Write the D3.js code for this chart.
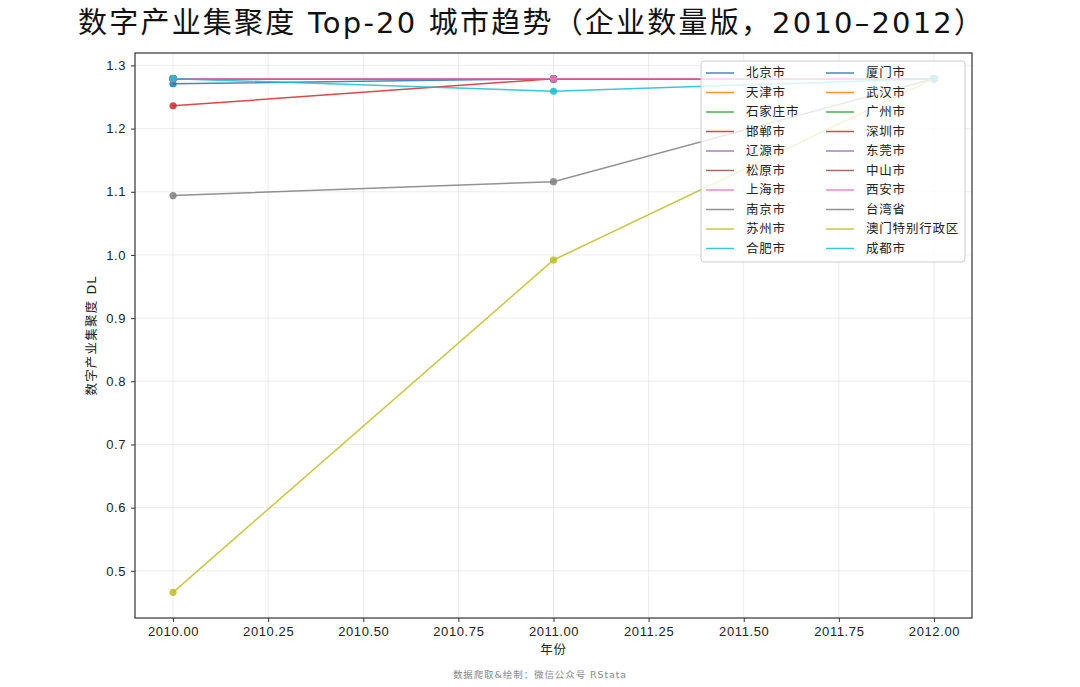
<!DOCTYPE html>
<html>
<head>
<meta charset="utf-8">
<script src="https://cdn.jsdelivr.net/npm/d3@7"></script>
<style>
  body { margin: 0; background: #fff; }
  svg { display: block; font-family: "DejaVu Sans", "Noto Sans CJK SC", sans-serif; }
</style>
</head>
<body>
<svg id="chart" width="1080" height="687"></svg>
<script>
// Data
const years = [2010, 2011, 2012];
const cities = [
  '北京市', '天津市', '石家庄市', '邯郸市', '辽源市', '松原市', '上海市', '南京市', '苏州市', '合肥市',
  '厦门市', '武汉市', '广州市', '深圳市', '东莞市', '中山市', '西安市', '台湾省', '澳门特别行政区', '成都市'
];
const seriesValues = [
  [1.279, 1.279, 1.279], [1.279, 1.279, 1.279], [1.279, 1.279, 1.279], [1.279, 1.279, 1.279],
  [1.279, 1.279, 1.279], [1.279, 1.279, 1.279], [1.279, 1.279, 1.279], [1.279, 1.279, 1.279],
  [1.279, 1.279, 1.279], [1.279, 1.279, 1.279],
  [1.271, 1.279, 1.279], [1.279, 1.279, 1.279], [1.279, 1.279, 1.279], [1.236, 1.279, 1.279],
  [1.279, 1.279, 1.279], [1.279, 1.279, 1.279], [1.279, 1.279, 1.279],
  [1.094, 1.116, 1.279], [0.466, 0.992, 1.279], [1.279, 1.259, 1.279]
];
const xTicks = [2010, 2010.25, 2010.5, 2010.75, 2011, 2011.25, 2011.5, 2011.75, 2012];
const yTicks = [0.5, 0.6, 0.7, 0.8, 0.9, 1.0, 1.1, 1.2, 1.3];
const palette = ['#1f77b4', '#ff7f0e', '#2ca02c', '#d62728', '#9467bd', '#8c564b', '#e377c2', '#7f7f7f', '#bcbd22', '#17becf'];

const svg = d3.select('#chart');
const margin = { left: 135, right: 108, top: 53, bottom: 69 };
const width = 1080 - margin.left - margin.right;
const height = 687 - margin.top - margin.bottom;

// matplotlib-style 5% margins
const xPad = (2012 - 2010) * 0.05;
const allVals = seriesValues.flat();
const yMin = d3.min(allVals), yMax = d3.max(allVals);
const yPad = (yMax - yMin) * 0.05;

const x = d3.scaleLinear().domain([2010 - xPad, 2012 + xPad]).range([0, width]);
const y = d3.scaleLinear().domain([yMin - yPad, yMax + yPad]).range([height, 0]);
const color = (i) => palette[i % palette.length];

const g = svg.append('g').attr('transform', `translate(${margin.left},${margin.top})`);

// Grid
g.append('g').selectAll('line').data(xTicks).enter().append('line')
  .attr('x1', d => x(d)).attr('x2', d => x(d)).attr('y1', 0).attr('y2', height)
  .attr('stroke', '#b0b0b0').attr('stroke-opacity', 0.3).attr('stroke-width', 0.8);
g.append('g').selectAll('line').data(yTicks).enter().append('line')
  .attr('y1', d => y(d)).attr('y2', d => y(d)).attr('x1', 0).attr('x2', width)
  .attr('stroke', '#b0b0b0').attr('stroke-opacity', 0.3).attr('stroke-width', 0.8);

// Lines + markers
const line = d3.line().x((d, i) => x(years[i])).y(d => y(d));
seriesValues.forEach((vals, i) => {
  g.append('path').datum(vals).attr('d', line)
    .attr('fill', 'none').attr('stroke', color(i)).attr('stroke-width', 1.5).attr('stroke-opacity', 0.85);
  g.append('g').selectAll('circle').data(vals).enter().append('circle')
    .attr('cx', (d, k) => x(years[k])).attr('cy', d => y(d)).attr('r', 3.6)
    .attr('fill', color(i)).attr('fill-opacity', 0.85);
});

// Axes
const xAxis = g.append('g').attr('transform', `translate(0,${height})`)
  .call(d3.axisBottom(x).tickValues(xTicks).tickFormat(d3.format('.2f')).tickSizeOuter(0).tickSize(4).tickPadding(5));
const yAxis = g.append('g')
  .call(d3.axisLeft(y).tickValues(yTicks).tickFormat(d3.format('.1f')).tickSizeOuter(0).tickSize(4).tickPadding(5));
[xAxis, yAxis].forEach(a => {
  a.select('.domain').remove();
  a.selectAll('text').attr('font-size', 13).attr('letter-spacing', 0.6).attr('fill', '#222');
  a.selectAll('line').attr('stroke', '#333');
});

// Frame
g.append('rect').attr('width', width).attr('height', height)
  .attr('fill', 'none').attr('stroke', '#333').attr('stroke-width', 1.2);

// Legend (drawn over the plot, semi-transparent)
const legend = g.append('g').attr('transform', `translate(${566},${8})`);
legend.append('rect').attr('width', 264).attr('height', 201).attr('rx', 3)
  .attr('fill', '#fff').attr('fill-opacity', 0.8).attr('stroke', '#ccc').attr('stroke-width', 1);
const perCol = 10;
cities.forEach((name, i) => {
  const col = Math.floor(i / perCol), row = i % perCol;
  const lx = 5 + col * 120, ly = 12 + row * 19.5;
  legend.append('line').attr('x1', lx).attr('x2', lx + 28).attr('y1', ly).attr('y2', ly)
    .attr('stroke', color(i)).attr('stroke-width', 1.5).attr('stroke-opacity', 0.85);
  legend.append('text').attr('x', lx + 40).attr('y', ly).attr('dy', '0.35em')
    .attr('font-size', 12.5).attr('letter-spacing', 0.8).attr('fill', '#222').text(name);
});

// Labels
svg.append('text').attr('x', 78).attr('y', 33)
  .attr('font-size', 29).attr('fill', '#111')
  .attr('textLength', 905).attr('lengthAdjust', 'spacing')
  .text('数字产业集聚度 Top-20 城市趋势（企业数量版，2010–2012）');
svg.append('text').attr('x', margin.left + width / 2).attr('y', 654).attr('text-anchor', 'middle')
  .attr('font-size', 12.5).attr('letter-spacing', 0.8).attr('fill', '#222').text('年份');
svg.append('text').attr('transform', `translate(96,${margin.top + height / 2}) rotate(-90)`)
  .attr('text-anchor', 'middle').attr('font-size', 12.5).attr('letter-spacing', 1.2)
  .attr('fill', '#222').text('数字产业集聚度 DL');
svg.append('text').attr('x', 540).attr('y', 678).attr('text-anchor', 'middle')
  .attr('font-size', 9.5).attr('letter-spacing', 0.9).attr('fill', '#888').text('数据爬取&绘制：微信公众号 RStata');
</script>
</body>
</html>
